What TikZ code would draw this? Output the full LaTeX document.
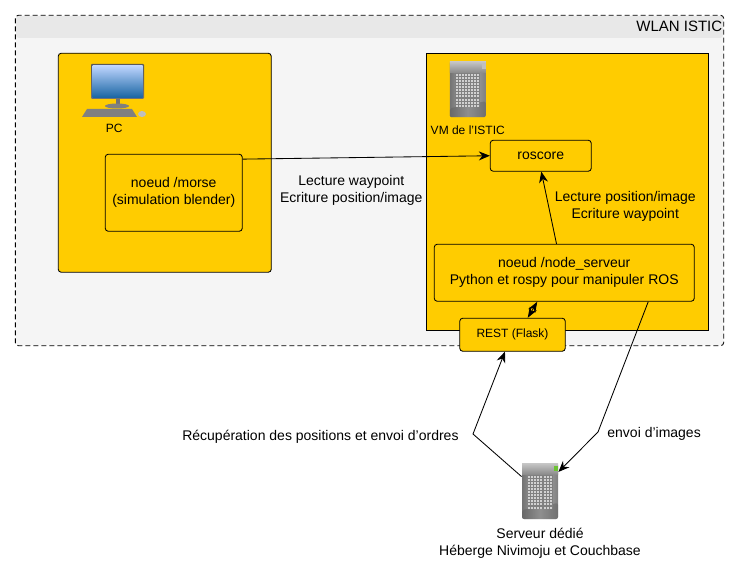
\documentclass[tikz,border=0pt]{standalone}
\usepackage{fontspec}
\setmainfont{Liberation Sans}
\usetikzlibrary{arrows.meta, calc, positioning}
\definecolor{jaune}{HTML}{FFCC00}
\tikzstyle{lan} = [rectangle, rounded corners=3pt, draw=black, fill=black!4, minimum width=707.5pt, minimum height=329.5pt, inner sep=0pt]
\tikzstyle{tirets} = [dash pattern=on 5pt off 3pt]
\tikzstyle{zone} = [rectangle, draw=black, fill=jaune, inner sep=0pt]
\tikzstyle{block} = [rectangle, rounded corners=3pt, draw=black, fill=jaune, align=center, inner sep=0pt]
\tikzstyle{icon} = [rectangle, minimum width=36pt, minimum height=57pt, inner sep=0pt]
\tikzstyle{legend} = [align=center, inner sep=0pt]
\tikzstyle{small} = [font=\fontsize{12}{14}\selectfont]
\tikzstyle{arrow} = [-{Stealth[length=11pt,width=9pt]}]
\newcommand{\serverIcon}[2][black!25]{
	\begin{scope}[shift={(#2.center)}]
		\path[left color=black!55, right color=black!50, middle color=black!30, rounded corners=2pt] (-18,-28) rectangle (18,28);
		\path[top color=black!22, bottom color=black!45] (-18,-28) rectangle (18,-17);
		\path[fill=black!65, opacity=0.4, rounded corners=2pt] (-18,19) -- (18,12) -- (18,28) -- (-18,28) -- cycle;
		\path[fill=black!50] (-12.5,-16) rectangle (12.5,18);
		\foreach \col in {0,...,7} {
			\foreach \row in {0,...,10} {
				\path[fill=black!18] (-12+3.1*\col,-15.5+3.1*\row) rectangle +(2,2);
			}
		}
		\path[fill=#1] (14,-25) rectangle (18,-20);
	\end{scope}
}
\begin{document}
\begin{tikzpicture}[x=1pt, y=-1pt, line width=0.85pt, font=\fontsize{14}{17}\selectfont]
	\useasboundingbox (0,0) rectangle (739,577);
	\node (Lan) [lan, draw=none] at (369.5,180.5) {};
	\path[fill=black!9, rounded corners=3pt] (16,16) -- (723,16) -- (723,38) -- (16,38) -- cycle;
	\draw[tirets, rounded corners=3pt] (Lan.north west) rectangle (Lan.south east);
	\node (LanTitle) [below left = 5.5pt and 1pt of Lan.north east, font=\fontsize{15}{17}\selectfont, inner sep=0pt] {WLAN ISTIC};
	% postes
	\node (PCZone) [zone, rounded corners=3pt, minimum width=213pt, minimum height=219pt, below right = 37.5pt and 42.5pt of Lan.north west] {};
	\node (VMZone) [zone, minimum width=282pt, minimum height=277pt, below right = 37.5pt and 410.5pt of Lan.north west] {};
	\node (Morse) [block, minimum width=137pt, minimum height=77pt, below right = 101pt and 47pt of PCZone.north west] {noeud /morse\\(simulation blender)};
	\node (Roscore) [block, minimum width=101pt, minimum height=31pt, below right = 87pt and 64pt of VMZone.north west] {roscore};
	\node (NodeServeur) [block, minimum width=260pt, minimum height=57pt, below right = 191pt and 8pt of VMZone.north west] {noeud /node\_serveur\\Python et rospy pour manipuler ROS};
	\node (Rest) [block, small, minimum width=105.5pt, minimum height=33pt, below right = 265pt and 33.5pt of VMZone.north west] {REST (Flask)};
	% icones
	\node (PCIcon) [rectangle, minimum width=60pt, minimum height=54pt, inner sep=0pt, below right = 11pt and 24pt of PCZone.north west] {};
	\shade[top color=black!65, bottom color=black!55, rounded corners=1pt] (91,64) rectangle (144,99);
	\shade[top color=cyan!35!blue!25, bottom color=cyan!55!blue!60!black!90] (92.5,65.5) rectangle (142.5,97.5);
	\path[fill=black!55] (115.5,99) rectangle (119.5,105);
	\path[fill=black!50] (117,106) ellipse (12 and 2.5);
	\path[fill=black!50] (87,109) -- (132,109) -- (137,117) -- (82,117) -- cycle;
	\path[fill=black!25] (142,114) ellipse (4 and 3);
	\node (PCLabel) [legend, small, below = 5pt of PCIcon, xshift=2pt] {PC};
	\node (VMIcon) [icon, below right = 7.5pt and 23.5pt of VMZone.north west] {};
	\serverIcon{VMIcon}
	\node (VMLabel) [legend, small, below = 7pt of VMIcon] {VM de l'ISTIC};
	\node (ServeurDedie) [icon] at (540,491) {};
	\serverIcon[green!60!yellow!70!black!80]{ServeurDedie}
	\node (ServeurLabel) [legend, below = 8pt of ServeurDedie] {Serveur dédié\\Héberge Nivimoju et Couchbase};
	\coordinate (CoudeOrdres) at (473,434);
	\coordinate (CoudeImages) at (598,432);
	% textes des liaisons
	\node (MorseText) [legend, right = 37pt of Morse, yshift=2pt] {Lecture waypoint\\Ecriture position/image};
	\node (RoscoreText) [legend, below = 19pt of Roscore, xshift=84.5pt] {Lecture position/image\\Ecriture waypoint};
	\node (OrdresText) [legend, left = 14pt of CoudeOrdres, yshift=-3pt] {Récupération des positions et envoi d'ordres};
	\node (ImagesText) [legend, right = 9pt of CoudeImages, yshift=-2pt] {envoi d'images};
	% liaisons
	\draw [arrow] (Morse.26.7) -- (Roscore.west);
	\draw [arrow] (NodeServeur.105.7) -- (Roscore.-88);
	\draw [{Stealth[length=11pt,width=8pt]}-{Stealth[length=11pt,width=8pt]}] (NodeServeur.227.6) -- (Rest.48.2);
	\draw [arrow] (ServeurDedie.142) -- (CoudeOrdres) -- (Rest.246.3);
	\draw [arrow] (NodeServeur.341.9) -- (CoudeImages) -- (ServeurDedie.46.5);
\end{tikzpicture}
\end{document}
